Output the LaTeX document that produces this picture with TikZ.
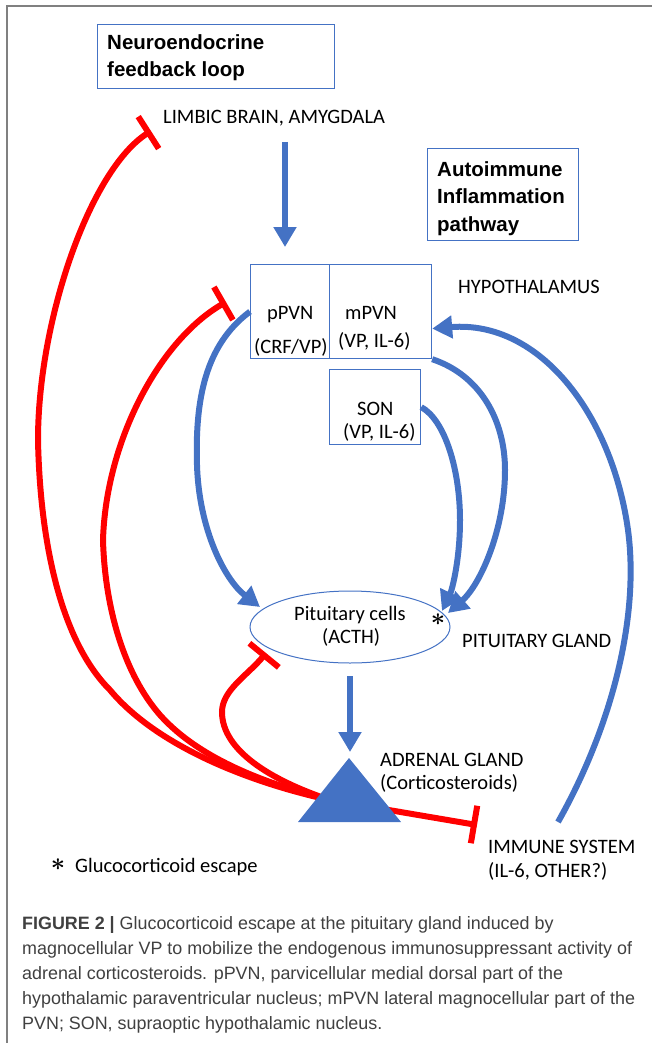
\documentclass[tikz,border=0pt]{standalone}
\usepackage{fontspec}
\setmainfont{Carlito}
\newfontfamily\boxfont{Liberation Sans}
\newfontfamily\capfont{Liberation Sans}
\usetikzlibrary{arrows.meta,shapes.geometric}
\definecolor{myblue}{HTML}{4472C4}
\definecolor{myred}{HTML}{FF0000}
\definecolor{capgray}{HTML}{404040}
\definecolor{framegray}{HTML}{808080}
\newcommand{\escstar}{{\boldmath$\ast$}}
\begin{document}
\begin{tikzpicture}[x=1pt,y=-1pt,
  lbl/.style={anchor=base west,inner sep=0pt,font=\fontsize{20.5}{24}\selectfont},
  boxtxt/.style={anchor=base west,inner sep=0pt,font=\boxfont\bfseries\fontsize{20.5}{24}\selectfont},
  captxt/.style={anchor=base west,inner sep=0pt,text=capgray,font=\capfont\fontsize{17.9}{20}\selectfont},
  bluebox/.style={draw=myblue,line width=1.2pt,inner sep=0pt,anchor=north west},
  barrow/.style={draw=myblue,line width=6pt,-{Triangle[length=20pt,width=22pt]}},
  rinhib/.style={draw=myred,line width=6pt,-{Bar[width=38pt]}},
  starsym/.style={inner sep=0pt,font=\fontsize{26}{26}\selectfont},
]
\useasboundingbox (0,0) rectangle (652,1043);
% frame
\draw[framegray,line width=1.5pt] (7,1043) -- (7,6) -- (652,6);

% named points
\coordinate (J) at (330,800);
\coordinate (limbtee) at (151,131);
\coordinate (pvntee) at (226,302);
\coordinate (pittee) at (266,653);
\coordinate (immtee) at (477,825);
\coordinate (limbarrs) at (285,142);
\coordinate (limbarre) at (285,247);
\coordinate (pitarrs) at (350,676);
\coordinate (pitarre) at (350,752);
\coordinate (ppvtip) at (260,607);
\coordinate (mpvtip) at (448,613);
\coordinate (sontip) at (442,611);
\coordinate (immst) at (558,822);

% red inhibitory feedback
\draw[rinhib] (J) .. controls (260,785) and (160,750) .. (110,690)
   .. controls (60,640) and (40,540) .. (38,440)
   .. controls (38,320) and (90,170) .. (limbtee);
\draw[rinhib] (J) .. controls (270,785) and (200,760) .. (160,715)
   .. controls (125,675) and (105,610) .. (103,540)
   .. controls (106,440) and (160,340) .. (pvntee);
\draw[rinhib] (J) .. controls (270,780) and (222,750) .. (222,712)
   .. controls (222,690) and (248,675) .. (pittee);
\draw[rinhib] (J) -- (immtee);

% adrenal triangle
\coordinate (adrtop) at (349,758);
\coordinate (adrr) at (401,822);
\coordinate (adrl) at (298,822);
\fill[myblue] (adrtop) -- (adrr) -- (adrl) -- cycle;

% boxes
\node[bluebox,minimum width=237pt,minimum height=64pt] (neurobox) at (97,24) {};
\node[bluebox,minimum width=151pt,minimum height=92pt] (autobox) at (427,148) {};
\node[bluebox,minimum width=79pt,minimum height=94pt] (ppvn) at (250,264) {};
\node[bluebox,minimum width=102pt,minimum height=94pt] (mpvn) at (329,264) {};
\node[bluebox,minimum width=91pt,minimum height=75pt] (son) at (329,369) {};
\node[ellipse,draw=myblue,line width=1pt,minimum width=200pt,minimum height=72pt,inner sep=0pt] (pit) at (350,627) {};

% blue arrows
\draw[barrow] (limbarrs) -- (limbarre);
\draw[barrow] (pitarrs) -- (pitarre);
\draw[barrow] (ppvn.west) .. controls (205,345) and (195,400) .. (197,465)
   .. controls (199,530) and (225,580) .. (ppvtip);
\draw[barrow] (mpvn.south east) .. controls (480,375) and (505,420) .. (505,470)
   .. controls (505,530) and (480,585) .. (mpvtip);
\draw[barrow] (son.east) .. controls (445,420) and (460,470) .. (460,520)
   .. controls (460,560) and (452,590) .. (sontip);
\draw[barrow] (immst) .. controls (610,730) and (640,620) .. (628,530)
   .. controls (612,415) and (540,320) .. ([yshift=-17pt]mpvn.east);

% texts
\node[boxtxt] (neuro1) at (107,50) {Neuroendocrine};
\node[boxtxt] (neuro2) at (107,77) {feedback loop};
\node[boxtxt] (auto1) at (437,176) {Autoimmune};
\node[boxtxt] (auto2) at (437,204) {Inflammation};
\node[boxtxt] (auto3) at (437,231) {pathway};
\node[lbl] (limbic) at (163,124) {LIMBIC BRAIN, AMYGDALA};
\node[lbl] (hypo) at (458,293) {HYPOTHALAMUS};
\node[lbl] (ppvn1) at (267,319) {pPVN};
\node[lbl] (ppvn2) at (254,353) {(CRF/VP)};
\node[lbl] (mpvn1) at (345,319) {mPVN};
\node[lbl] (mpvn2) at (338,347) {(VP, IL-6)};
\node[lbl] (son1) at (357,415) {SON};
\node[lbl] (son2) at (343,438) {(VP, IL-6)};
\node[lbl] (pit1) at (294,620) {Pituitary cells};
\node[lbl] (pit2) at (322,643) {(ACTH)};
\node[starsym] (esc) at (438,620) {\escstar};
\node[lbl] (pitgl) at (462,647) {PITUITARY GLAND};
\node[lbl] (adr1) at (380,766) {ADRENAL GLAND};
\node[lbl] (adr2) at (380,789) {(Corticosteroids)};
\node[lbl] (imm1) at (488,853) {IMMUNE SYSTEM};
\node[lbl] (imm2) at (488,877) {(IL-6, OTHER?)};
\node[starsym] (legstar) at (58,865) {\escstar};
\node[lbl] (legend) at (75,872) {Glucocorticoid escape};

% caption
\node[captxt] (cap1) at (22,929) {{\bfseries FIGURE 2 |} Glucocorticoid escape at the pituitary gland induced by};
\node[captxt] (cap2) at (22,954) {magnocellular VP to mobilize the endogenous immunosuppressant activity of};
\node[captxt] (cap3) at (22,979) {adrenal corticosteroids. pPVN, parvicellular medial dorsal part of the};
\node[captxt] (cap4) at (22,1004) {hypothalamic paraventricular nucleus; mPVN lateral magnocellular part of the};
\node[captxt] (cap5) at (22,1029) {PVN; SON, supraoptic hypothalamic nucleus.};
\end{tikzpicture}
\end{document}
